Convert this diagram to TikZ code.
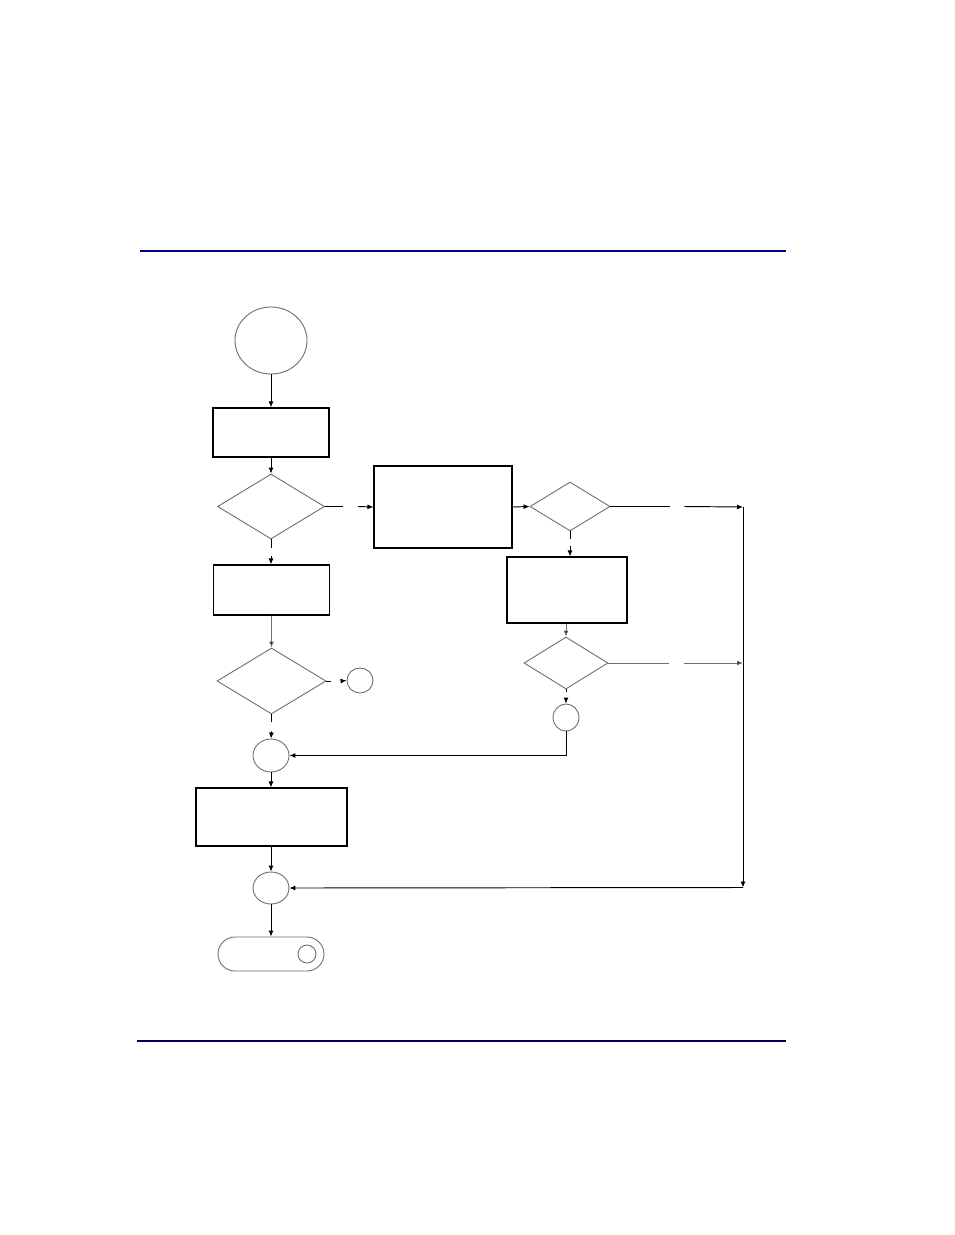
\documentclass[tikz,border=0pt]{standalone}
\usetikzlibrary{shapes.geometric,arrows.meta,calc}
\definecolor{rulenavy}{HTML}{000080}
\definecolor{rulenavyd}{HTML}{00005A}
\definecolor{shapegray}{HTML}{6E6E6E}
\begin{document}
\begin{tikzpicture}[x=1pt,y=-1pt,
  procbox/.style={draw=black,line width=1.1pt,rectangle,inner sep=0pt},
  decision/.style={draw=shapegray,line width=0.9pt,diamond,inner sep=0pt},
  conn/.style={draw=shapegray,line width=0.9pt,ellipse,inner sep=0pt},
  termbox/.style={draw=shapegray,line width=0.9pt,rectangle,rounded corners=17pt,inner sep=0pt},
  link/.style={draw=black,line width=0.95pt},
  arr/.style={link,-{Latex[length=6pt,width=5pt]}},
  softarr/.style={draw=shapegray,line width=0.9pt,-{Latex[length=6pt,width=5pt,fill=black]}}
]
\useasboundingbox (0,0) rectangle (954,1235);
% rules
\draw[rulenavy,line width=2.4pt] (140,251) -- (786,251);
\draw[rulenavyd,line width=1.1pt] (137,1041) -- (786,1041);

% nodes
\node[conn,minimum width=72pt,minimum height=67pt] (start) at (271,340.5) {};
\node[procbox,minimum width=116pt,minimum height=49pt] (b1) at (271,432.5) {};
\node[decision,minimum width=107pt,minimum height=65pt] (d1) at (271,506.5) {};
\node[procbox,minimum width=138pt,minimum height=82pt] (b2) at (443,507) {};
\node[decision,minimum width=80pt,minimum height=49pt] (d2) at (570,506.5) {};
\node[procbox,minimum width=120pt,minimum height=66pt] (b4) at (567,590) {};
\node[decision,minimum width=84pt,minimum height=52pt] (d3) at (566,663) {};
\node[procbox,minimum width=116pt,minimum height=50pt] (b3) at (271.5,590) {};
\node[decision,minimum width=109pt,minimum height=66pt] (d4) at (271.5,681) {};
\node[conn,minimum width=26pt,minimum height=25pt] (cside) at (360,680.5) {};
\node[conn,minimum width=26pt,minimum height=27pt] (c4) at (566,717.5) {};
\node[conn,minimum width=36pt,minimum height=33pt] (c1) at (271,755.5) {};
\node[procbox,minimum width=151pt,minimum height=58pt] (b5) at (271.5,817) {};
\node[conn,minimum width=36pt,minimum height=32pt] (c2) at (271,888) {};
\node[termbox,minimum width=106pt,minimum height=34pt] (term) at (271,954) {};
\node[conn,minimum width=18pt,minimum height=18pt] (tdot) at (307,954) {};

\coordinate (busTop) at (743,507);
\coordinate (busMid) at (743,663);
\coordinate (busBot) at (743,887.5);

% connectors
\draw[arr] (start.south) -- (b1.north);
\draw[arr] (b1.south) -- (d1.north);
% d1 right
\draw[link] (d1.east) -- ($(d1.east)+(18,0)$);
\draw[arr] ($(d1.east)+(33,0)$) -- (b2.west);
% d1 bottom
\draw[link] (d1.south) -- ($(d1.south)+(0,9)$);
\draw[arr] ($(d1.south)+(0,17)$) -- (b3.north -| d1.south);
\draw[arr] (b2.east) -- (d2.west);
% d2 right
\draw[link] (d2.east) -- ($(d2.east)+(60,0)$);
\draw[arr] ($(d2.east)+(74,0)$) -- (busTop);
% d2 bottom
\draw[link] (d2.south) -- ($(d2.south)+(0,8)$);
\draw[arr] ($(d2.south)+(0,15)$) -- (b4.north -| d2.south);
\draw[softarr] (b4.south -| d3.north) -- (d3.north);
% d3 right
\draw[draw=shapegray,line width=0.95pt] (d3.east) -- ($(d3.east)+(61,0)$);
\draw[softarr] ($(d3.east)+(76,0)$) -- (busMid);
% d3 bottom
\draw[link] (d3.south) -- ($(d3.south)+(0,3)$);
\draw[arr] ($(d3.south)+(0,10)$) -- (c4.north);
\draw[arr] (c4.south) |- (c1.east);
% b3 / d4
\draw[softarr] (b3.south) -- (d4.north);
\draw[link] (d4.east) -- ($(d4.east)+(5,0)$);
\draw[arr] ($(d4.east)+(15,0)$) -- (cside.west);
\draw[link] (d4.south) -- ($(d4.south)+(0,8)$);
\draw[arr] ($(d4.south)+(0,17)$) -- (c1.north);
\draw[arr] (c1.south) -- (b5.north -| c1.south);
\draw[arr] (b5.south -| c2.north) -- (c2.north);
\draw[arr] (c2.south) -- (term.north);
% right bus
\draw[arr] (busTop) -- (busBot);
\draw[arr] (busBot) -- (c2.east);
\end{tikzpicture}
\end{document}
